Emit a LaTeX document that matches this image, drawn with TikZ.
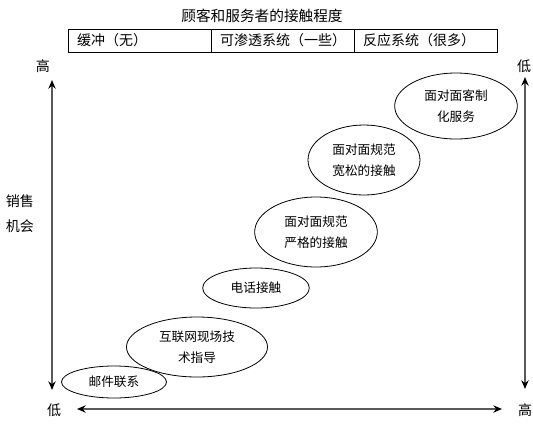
\documentclass[tikz,border=0pt]{standalone}
\usepackage{fontspec}
\setmainfont{Noto Sans CJK SC}
\usetikzlibrary{shapes.geometric,arrows.meta,positioning}

\begin{document}
\begin{tikzpicture}[x=0.75pt, y=-0.75pt, font=\fontsize{9.5}{16}\selectfont]
\tikzset{
  oval/.style={ellipse, draw=black, line width=0.6pt, inner sep=0pt, align=center},
  cell/.style={rectangle, draw=black, line width=0.6pt, outer sep=0pt, inner xsep=6.75pt,
    text width=93.75pt, minimum height=17.25pt, align=left, font=\fontsize{10.5}{12}\selectfont},
  lbl/.style={font=\fontsize{10.5}{18.75}\selectfont, inner sep=0pt, align=center},
  arr/.style={{Stealth[length=6.5pt,width=5.5pt,color=black]}-{Stealth[length=6.5pt,width=5.5pt,color=black]}, line width=1pt, draw=black!65},
}
\useasboundingbox (0,0) rectangle (533,426);
% title and contact table
\node[font=\fontsize{11}{13}\selectfont] (title) at (262,16) {顾客和服务者的接触程度};
\node[cell, anchor=north west] (buffer) at (68,29) {缓冲（无）};
\node[cell, right=0pt of buffer] (permeable) {可渗透系统（一些）};
\node[cell, right=0pt of permeable] (reactive) {反应系统（很多）};
% axis labels
\node[lbl] (lefthigh) at (43,66) {高};
\node[lbl] (leftlow) at (54,410) {低};
\node[lbl] (rightlow) at (524,66) {低};
\node[lbl] (righthigh) at (525,410) {高};
\node[lbl] (sales) at (20,214) {销售\\机会};
% axes
\coordinate (ltop) at (52,80);
\coordinate (lbot) at (52,390);
\coordinate (rtop) at (525,77);
\coordinate (rbot) at (525,389);
\coordinate (bleft) at (77,409);
\coordinate (bright) at (502,409);
\draw[arr] (ltop) -- (lbot);
\draw[arr] (rtop) -- (rbot);
\draw[arr] (bleft) -- (bright);
% service types
\node[oval, minimum width=78.75pt, minimum height=24pt] (mail) at (114,382) {邮件联系};
\node[oval, minimum width=105.75pt, minimum height=45pt] (web) at (197,347) {互联网现场技\\术指导};
\node[oval, minimum width=80pt, minimum height=30pt] (phone) at (256,288) {电话接触};
\node[oval, minimum width=92pt, minimum height=52.5pt] (strict) at (316,232) {面对面规范\\严格的接触};
\node[oval, minimum width=84pt, minimum height=52.5pt] (loose) at (364,160) {面对面规范\\宽松的接触};
\node[oval, minimum width=92pt, minimum height=49.5pt] (custom) at (456,106) {面对面客制\\化服务};
\end{tikzpicture}
\end{document}
